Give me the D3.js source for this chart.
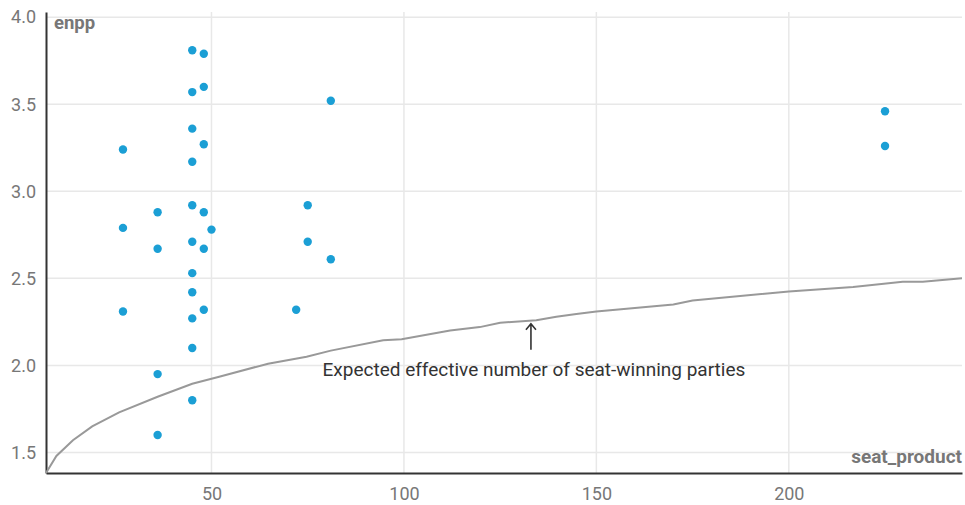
<!DOCTYPE html>
<html>
<head>
<meta charset="utf-8">
<script src="https://cdn.jsdelivr.net/npm/d3@7"></script>
<style>
	body { margin: 0; background: #fff; }
	svg { display: block; font-family: Roboto, sans-serif; }
</style>
</head>
<body>
<div id="chart"></div>
<script>
// Observed elections: seat product vs. effective number of parties
const seatProduct = [
	27, 27, 27,
	36, 36, 36, 36,
	45, 45, 45, 45, 45, 45, 45, 45, 45, 45, 45,
	48, 48, 48, 48, 48, 48,
	50, 72, 75, 75, 81, 81, 225, 225,
]
const enpp = [
	3.24, 2.79, 2.31,
	2.88, 2.67, 1.95, 1.6,
	3.81, 3.57, 3.36, 3.17, 2.92, 2.71, 2.53, 2.42, 2.27, 2.1, 1.8,
	3.79, 3.6, 3.27, 2.88, 2.67, 2.32,
	2.78, 2.32, 2.92, 2.71, 3.52, 2.61, 3.46, 3.26,
]

// Expected curve
const curveX = [7, 9.7, 14, 19, 26, 36, 45, 52, 64.7, 74.7, 81, 94.6, 99.4, 112, 119.7, 125, 134.4, 139.6, 144.8, 150, 170, 175, 200, 216.7, 229.6, 234.8, 245]
const curveY = [1.382, 1.48, 1.57, 1.65, 1.73, 1.82, 1.895, 1.935, 2.01, 2.05, 2.085, 2.145, 2.15, 2.2, 2.22, 2.245, 2.26, 2.28, 2.295, 2.31, 2.35, 2.373, 2.425, 2.45, 2.48, 2.48, 2.5]

const xTicks = [50, 100, 150, 200]
const yTicks = [1.5, 2.0, 2.5, 3.0, 3.5, 4.0]

const annotation = { x: 133, y: 2.262, label: "Expected effective number of seat-winning parties" }

const width = 965
const height = 505
const margin = { top: 12, right: 3, bottom: 32, left: 46 }

const svg = d3.select("#chart")
	.append("svg")
	.attr("width", width)
	.attr("height", height)

const xScale = d3.scaleLinear()
	.domain([7, 245])
	.range([margin.left, width - margin.right])

const yScale = d3.scaleLinear()
	.domain([1.382, 4.03])
	.range([height - margin.bottom, margin.top])

// Grid lines
svg.append("g")
	.attr("class", "grid")
	.selectAll("line.h")
	.data(yTicks)
	.join("line")
	.attr("x1", margin.left)
	.attr("x2", width - margin.right)
	.attr("y1", (d) => yScale(d))
	.attr("y2", (d) => yScale(d))
	.attr("stroke", "#e8e8e8")
	.attr("stroke-width", 1.5)

svg.append("g")
	.attr("class", "grid")
	.selectAll("line.v")
	.data(xTicks)
	.join("line")
	.attr("x1", (d) => xScale(d))
	.attr("x2", (d) => xScale(d))
	.attr("y1", margin.top)
	.attr("y2", height - margin.bottom)
	.attr("stroke", "#e8e8e8")
	.attr("stroke-width", 1.5)

// Axes
const xAxis = svg.append("g")
	.attr("class", "x-axis")
	.attr("transform", `translate(0,${height - margin.bottom})`)
	.call(d3.axisBottom(xScale).tickValues(xTicks).tickSize(0).tickPadding(14))

const yAxis = svg.append("g")
	.attr("class", "y-axis")
	.attr("transform", `translate(${margin.left},0)`)
	.call(d3.axisLeft(yScale).tickValues(yTicks).tickFormat(d3.format(".1f")).tickSize(0).tickPadding(10))

for (const axis of [xAxis, yAxis]) {
	axis.select(".domain").attr("stroke", "#333").attr("stroke-width", 2)
	axis.selectAll("text")
		.style("font-family", "Roboto, sans-serif")
		.style("font-size", "18px")
		.attr("fill", "#777")
}

// Expected curve
const curveData = curveX.map((x, i) => ({ x, y: curveY[i] }))
const line = d3.line()
	.x((d) => xScale(d.x))
	.y((d) => yScale(d.y))

svg.append("path")
	.datum(curveData)
	.attr("fill", "none")
	.attr("stroke", "#999")
	.attr("stroke-width", 2)
	.attr("d", line)

// Points
svg.append("g")
	.selectAll("circle")
	.data(seatProduct.map((x, i) => ({ x, y: enpp[i] })))
	.join("circle")
	.attr("cx", (d) => xScale(d.x))
	.attr("cy", (d) => yScale(d.y))
	.attr("r", 4.2)
	.attr("fill", "#1b9fd5")

// Annotation arrow + label
const ax = xScale(annotation.x)
const ay = yScale(annotation.y) + 4
svg.append("path")
	.attr("d", `M${ax},${ay + 26}V${ay} M${ax - 5},${ay + 6}L${ax},${ay}L${ax + 5},${ay + 6}`)
	.attr("fill", "none")
	.attr("stroke", "#333")
	.attr("stroke-width", 1.6)

svg.append("text")
	.attr("x", ax + 3)
	.attr("y", ay + 52)
	.attr("text-anchor", "middle")
	.style("font-size", "19px")
	.attr("fill", "#333")
	.text(annotation.label)

// Axis titles
svg.append("text")
	.attr("x", margin.left + 8)
	.attr("y", 29)
	.style("font-size", "18.5px")
	.style("font-weight", "bold")
	.attr("fill", "#777")
	.text("enpp")

svg.append("text")
	.attr("x", width - 3)
	.attr("y", 463)
	.attr("text-anchor", "end")
	.style("font-size", "19px")
	.style("font-weight", "bold")
	.attr("fill", "#777")
	.text("seat_product")
</script>
</body>
</html>
